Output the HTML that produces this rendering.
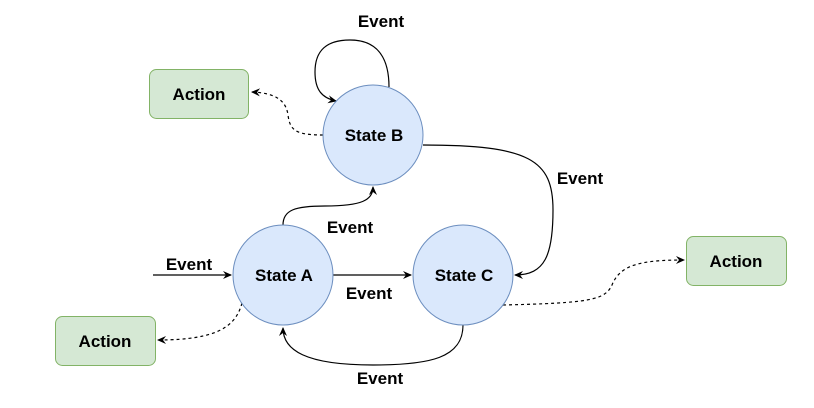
<!DOCTYPE html>
<html><head><meta charset="utf-8"><style>
html,body{margin:0;padding:0;background:#fff;width:814px;height:408px;overflow:hidden}
text{font-family:"Liberation Sans",Arial,sans-serif;font-weight:bold;font-size:17px;fill:#000}
</style></head><body>
<svg width="814" height="408" viewBox="0 0 814 408" xmlns="http://www.w3.org/2000/svg">
<defs>
<marker id="a" markerWidth="10" markerHeight="10" refX="8" refY="5" orient="auto" markerUnits="userSpaceOnUse">
<path d="M0,1 L9,5 L0,9 L3,5 Z" fill="#000"/></marker>
</defs>
<g fill="none" stroke="#000" stroke-width="1.2">
<path d="M389,87 C389,55 375,40 350,40 C322,40 315,55 315,72 C315,90 322,98 336,101" marker-end="url(#a)"/>
<path d="M283,225 C283,210 295,206 325,206 C362,206 373,200 373,187" marker-end="url(#a)"/>
<path d="M153,275 L231,275" marker-end="url(#a)"/>
<path d="M333,275 L411,275" marker-end="url(#a)"/>
<path d="M423,145 C530,145 553,160 553,210 C553,255 545,275 515,275" marker-end="url(#a)"/>
<path d="M463,325 C463,358 430,365 373,365 C305,365 283,350 283,328" marker-end="url(#a)"/>
<g stroke-dasharray="3,3">
<path d="M323,135 C295,135 290,130 288,115 C286,100 275,93 252,92" marker-end="url(#a)"/>
<path d="M242,303 C236,325 220,340 158,340" marker-end="url(#a)"/>
<path d="M503,305 C590,303 605,300 612,285 C620,265 640,260 684,260" marker-end="url(#a)"/>
</g>
</g>
<g fill="#dae8fc" stroke="#6c8ebf" stroke-width="1">
<circle cx="373" cy="135" r="50"/>
<circle cx="283" cy="275" r="50"/>
<circle cx="463" cy="275" r="50"/>
</g>
<g fill="#d5e8d4" stroke="#82b366" stroke-width="1">
<rect x="149.5" y="69.5" width="99" height="49" rx="7"/>
<rect x="55.5" y="316.5" width="100" height="49" rx="7"/>
<rect x="686.5" y="236.5" width="100" height="49" rx="7"/>
</g>
<g text-anchor="middle">
<text x="374" y="141">State B</text>
<text x="284" y="281">State A</text>
<text x="464" y="281">State C</text>
<text x="199" y="100">Action</text>
<text x="105" y="347">Action</text>
<text x="736" y="267">Action</text>
<text x="381" y="27">Event</text>
<text x="350" y="233">Event</text>
<text x="189" y="270">Event</text>
<text x="369" y="299">Event</text>
<text x="380" y="384">Event</text>
<text x="580" y="184">Event</text>
</g>
</svg>
</body></html>
